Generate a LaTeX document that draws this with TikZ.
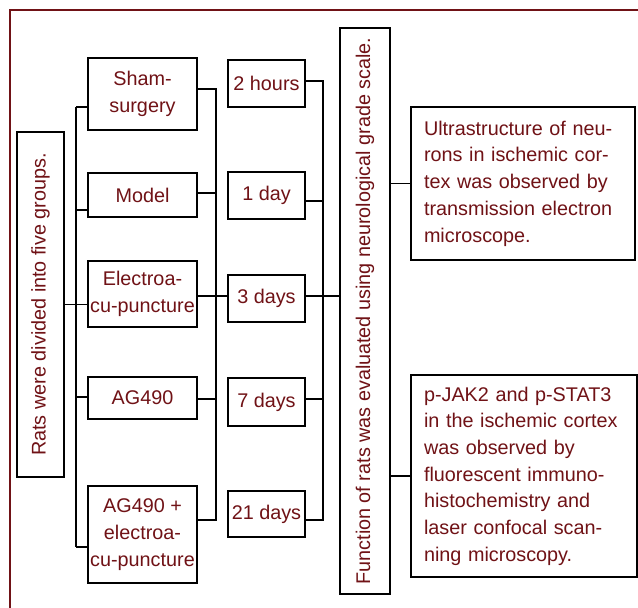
\documentclass[tikz,border=0pt]{standalone}
\usepackage{fontspec}
\setmainfont{Liberation Sans}
\definecolor{dred}{RGB}{112,18,22}
\begin{document}
\begin{tikzpicture}[x=1pt,y=-1pt,
  box/.style={draw=black, line width=1.5pt, text=dred, inner sep=1pt, align=center,
    font=\fontsize{19.8}{26.7}\selectfont},
  conn/.style={draw=black, line width=1.5pt}]
\useasboundingbox (0,0) rectangle (638,608);
\fill[white] (0,0) rectangle (638,608);
\draw[dred, line width=1.5pt] (10,608) -- (10,10) -- (638,10);

% left box
\node[box, rotate=90, minimum width=345pt, minimum height=47pt] (rats) at (40.5,304.5) {Rats were divided into five groups.};
% groups
\node[box, minimum width=109pt, minimum height=72pt] (g1) at (142.5,94) {Sham-\\surgery};
\node[box, minimum width=109pt, minimum height=44pt] (g2) at (142.5,195) {Model};
\node[box, minimum width=109pt, minimum height=66pt] (g3) at (142.5,294) {Electroa-\\cu-puncture};
\node[box, minimum width=109pt, minimum height=42pt] (g4) at (142.5,398) {AG490};
\node[box, minimum width=109pt, minimum height=97pt] (g5) at (142.5,534.5) {AG490 +\\electroa-\\cu-puncture};
% times
\node[box, minimum width=77pt, minimum height=47pt] (t1) at (266.5,83.5) {2 hours};
\node[box, minimum width=77pt, minimum height=47pt] (t2) at (266.5,195.5) {1 day};
\node[box, minimum width=77pt, minimum height=47pt] (t3) at (266.5,298.5) {3 days};
\node[box, minimum width=77pt, minimum height=48pt] (t4) at (266.5,402) {7 days};
\node[box, minimum width=77pt, minimum height=46pt] (t5) at (266.5,514) {21 days};
% function box
\node[box, rotate=90, minimum width=566pt, minimum height=50pt] (func) at (365,311) {Function of rats was evaluated using neurological grade scale.};
% results
\node[box, align=left, text width=198pt, minimum width=224pt, minimum height=153pt] (r1) at (523,183.5)
  {Ultrastructure of neu-\\rons in ischemic cor-\\tex was observed by\\transmission electron\\microscope.};
\node[box, align=left, text width=200pt, minimum width=226pt, minimum height=202pt] (r2) at (524,476)
  {p-JAK2 and p-STAT3\\in the ischemic cortex\\was observed by\\fluorescent immuno-\\histochemistry and\\laser confocal scan-\\ning microscopy.};

% buses
\coordinate (busL) at (76,0);
\coordinate (busM) at (216,0);
\coordinate (busR) at (323,0);

% left connectors
\coordinate (a1) at ([yshift=-13pt]g1.west);
\coordinate (a2) at ([yshift=-15pt]g2.west);
\coordinate (a4) at ([yshift=1pt]g4.west);
\coordinate (a5) at ([yshift=-12.5pt]g5.west);
\draw[conn] (rats.south) -- (rats.south -| g3.west);
\draw[conn] (a1 -| busL) -- (a5 -| busL);
\draw[conn] (a1) -- (a1 -| busL);
\draw[conn] (a2) -- (a2 -| busL);
\draw[conn] (a4) -- (a4 -| busL);
\draw[conn] (a5) -- (a5 -| busL);

% group right connectors
\coordinate (b1) at ([yshift=5pt]g1.east);
\coordinate (b2) at ([yshift=2pt]g2.east);
\coordinate (b3) at ([yshift=-2pt]g3.east);
\coordinate (b4) at ([yshift=-1pt]g4.east);
\coordinate (b5) at ([yshift=14.5pt]g5.east);
\draw[conn] (b1) -- (b1 -| busM) -- (b5 -| busM) -- (b5);
\draw[conn] (b2) -- (b2 -| busM);
\draw[conn] (b4) -- (b4 -| busM);
\draw[conn] (b3) -- (b3 -| t3.west);

% time right connectors
\coordinate (c1) at ([yshift=2.5pt]t1.east);
\coordinate (c2) at ([yshift=-5.5pt]t2.east);
\coordinate (c3) at (b3 -| t3.east);
\coordinate (c4) at ([yshift=3pt]t4.east);
\coordinate (c5) at ([yshift=-6pt]t5.east);
\draw[conn] (c1) -- (c1 -| busR) -- (c5 -| busR) -- (c5);
\draw[conn] (c2) -- (c2 -| busR);
\draw[conn] (c4) -- (c4 -| busR);
\draw[conn] (c3) -- (c3 -| func.north);

% function to results
\draw[conn] (r1.west -| func.south) -- (r1.west);
\draw[conn] (r2.west -| func.south) -- (r2.west);
\end{tikzpicture}
\end{document}
